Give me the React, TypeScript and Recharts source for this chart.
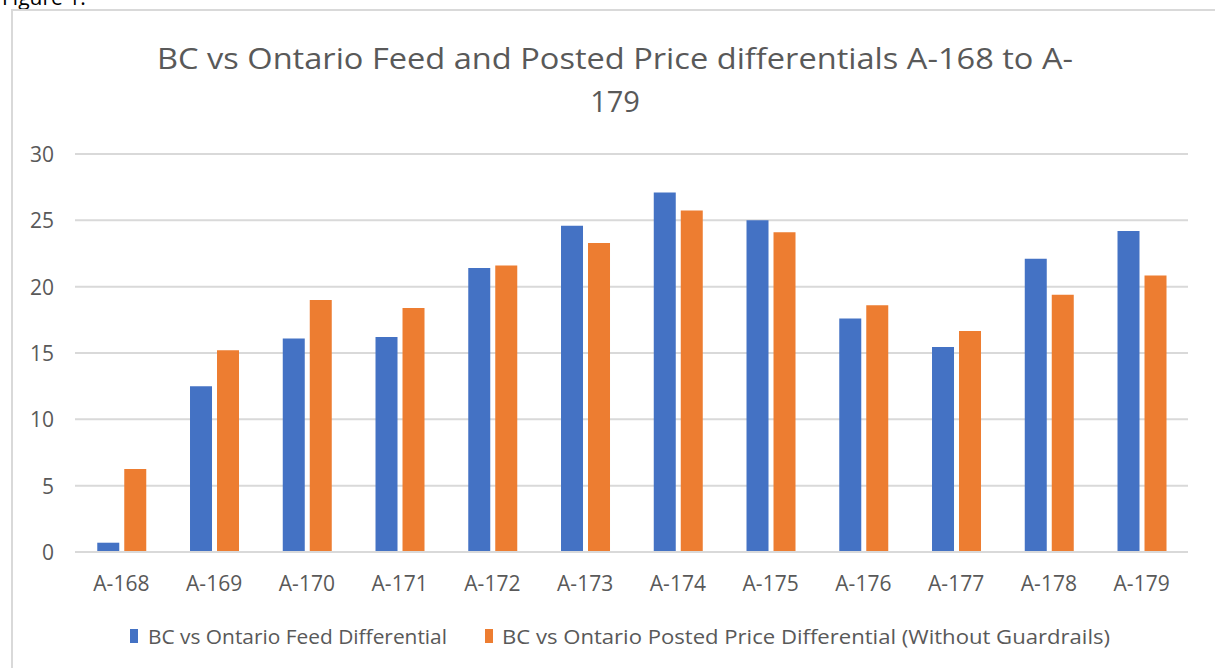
import React from 'react';
import { BarChart, Bar, XAxis, YAxis, CartesianGrid, Legend } from 'recharts';

const categories = ['A-168', 'A-169', 'A-170', 'A-171', 'A-172', 'A-173', 'A-174', 'A-175', 'A-176', 'A-177', 'A-178', 'A-179'];
const feedDifferential = [0.7, 12.5, 16.1, 16.2, 21.4, 24.6, 27.1, 25.0, 17.6, 15.45, 22.1, 24.2];
const postedDifferential = [6.25, 15.2, 19.0, 18.4, 21.6, 23.3, 25.75, 24.1, 18.6, 16.65, 19.4, 20.85];
const yTicks = [0, 5, 10, 15, 20, 25, 30];

const feedName = 'BC vs Ontario Feed Differential';
const postedName = 'BC vs Ontario Posted Price Differential (Without Guardrails)';
const titleLines = ['BC vs Ontario Feed and Posted Price differentials A-168 to A-', '179'];

const data = categories.map((c, i) => ({ name: c, feed: feedDifferential[i], posted: postedDifferential[i] }));

const FONT = '"Open Sans", sans-serif';
const TEXT = '#595959';

const XTick = (props: any) => {
  const { x, y, payload } = props;
  return (
    <text x={x} y={y} textAnchor="middle" dominantBaseline="central" fill={TEXT} fontFamily={FONT} fontSize={21}>
      {payload.value}
    </text>
  );
};

const YTick = (props: any) => {
  const { x, y, payload } = props;
  return (
    <text x={x} y={y} textAnchor="end" dominantBaseline="central" fill={TEXT} fontFamily={FONT} fontSize={21}>
      {payload.value}
    </text>
  );
};

const LegendContent = () => (
  <svg width={1215} height={34} style={{ display: 'block', position: 'relative', left: -15 }}>
    <rect x={130} y={12} width={8} height={14} fill="#4472C4" />
    <text x={148} y={19} dominantBaseline="central" fill={TEXT} fontFamily={FONT} fontSize={20} textLength={299} lengthAdjust="spacingAndGlyphs">
      {feedName}
    </text>
    <rect x={485} y={12} width={8} height={14} fill="#ED7D31" />
    <text x={502} y={19} dominantBaseline="central" fill={TEXT} fontFamily={FONT} fontSize={20} textLength={608} lengthAdjust="spacingAndGlyphs">
      {postedName}
    </text>
  </svg>
);

export default function App() {
  return (
    <div style={{ position: 'fixed', top: 0, left: 0, width: 1215, height: 668, background: '#fff', overflow: 'hidden' }}>
      <div style={{ position: 'absolute', top: -17, left: 2, fontFamily: FONT, fontSize: 21, color: '#000' }}>Figure 1:</div>
      <div style={{ position: 'absolute', top: 9, left: 11, width: 1300, height: 800, border: '2px solid #d9d9d9', boxSizing: 'border-box' }} />
      <svg width={1215} height={140} style={{ position: 'absolute', top: 0, left: 0 }}>
        <text x={615} y={57} textAnchor="middle" dominantBaseline="central" fill={TEXT} fontFamily={FONT} fontSize={29} textLength={916} lengthAdjust="spacingAndGlyphs">
          {titleLines[0]}
        </text>
        <text x={615} y={100} textAnchor="middle" dominantBaseline="central" fill={TEXT} fontFamily={FONT} fontSize={29}>
          {titleLines[1]}
        </text>
      </svg>
      <div style={{ position: 'absolute', top: 0, left: 0 }}>
        <BarChart width={1215} height={668} data={data} margin={{ top: 154, right: 27, left: 15, bottom: 17 }} barCategoryGap="24%" barGap={5}>
          <CartesianGrid vertical={false} stroke="#d9d9d9" strokeWidth={2} />
          <XAxis dataKey="name" axisLine={{ stroke: '#d9d9d9', strokeWidth: 2 }} tickLine={false} tickSize={0} tickMargin={31} height={65} tick={<XTick />} interval={0} />
          <YAxis domain={[0, 30]} ticks={yTicks} axisLine={false} tickLine={false} tickSize={0} tickMargin={21} width={60} tick={<YTick />} />
          <Legend verticalAlign="bottom" height={34} content={<LegendContent />} />
          <Bar dataKey="feed" name={feedName} fill="#4472C4" isAnimationActive={false} />
          <Bar dataKey="posted" name={postedName} fill="#ED7D31" isAnimationActive={false} />
        </BarChart>
      </div>
    </div>
  );
}
